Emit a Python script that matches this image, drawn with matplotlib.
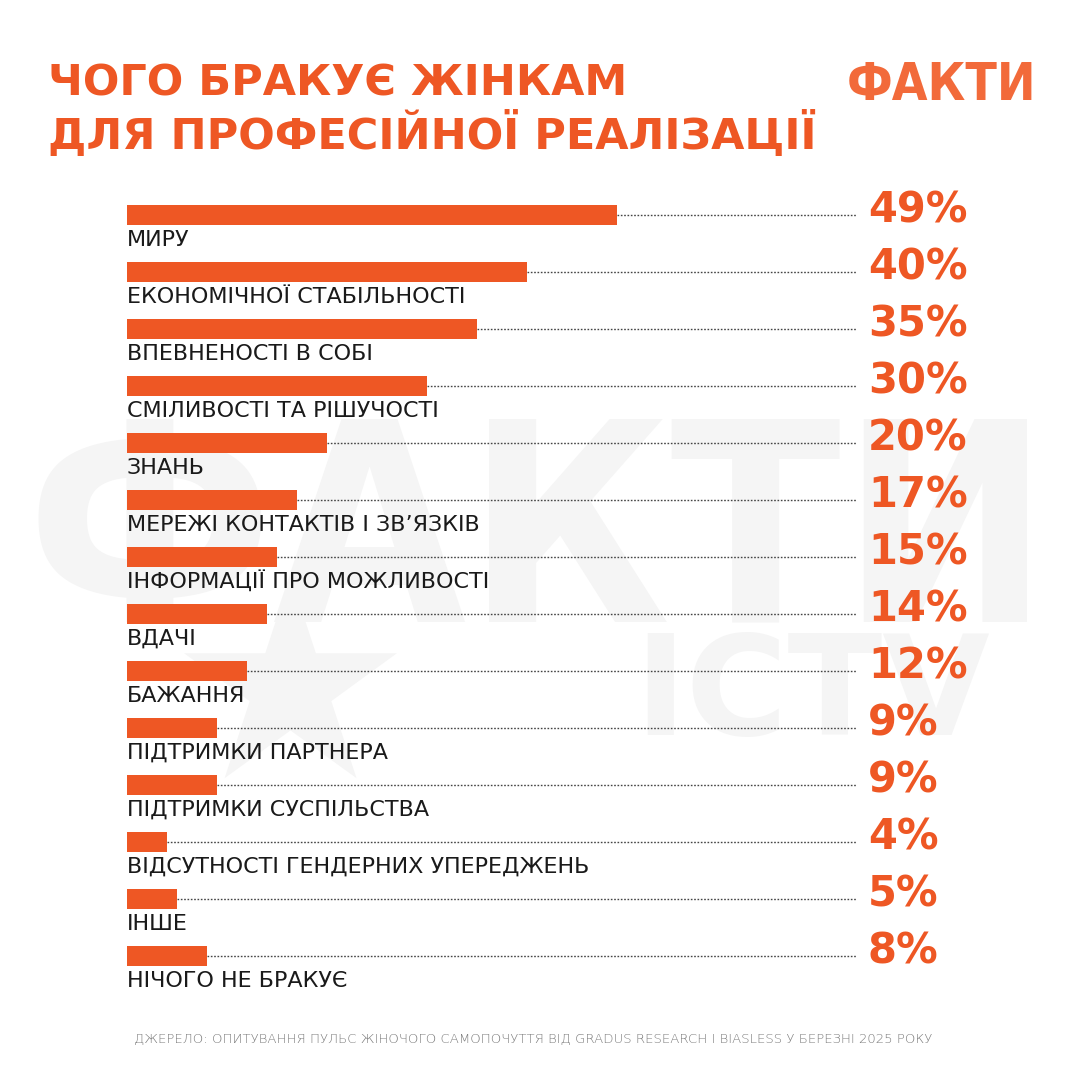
import matplotlib
matplotlib.use("Agg")
import matplotlib.pyplot as plt

# data
categories = ["МИРУ", "ЕКОНОМІЧНОЇ СТАБІЛЬНОСТІ", "ВПЕВНЕНОСТІ В СОБІ",
              "СМІЛИВОСТІ ТА РІШУЧОСТІ", "ЗНАНЬ", "МЕРЕЖІ КОНТАКТІВ І ЗВ’ЯЗКІВ",
              "ІНФОРМАЦІЇ ПРО МОЖЛИВОСТІ", "ВДАЧІ", "БАЖАННЯ", "ПІДТРИМКИ ПАРТНЕРА",
              "ПІДТРИМКИ СУСПІЛЬСТВА", "ВІДСУТНОСТІ ГЕНДЕРНИХ УПЕРЕДЖЕНЬ", "ІНШЕ",
              "НІЧОГО НЕ БРАКУЄ"]
values = [49, 40, 35, 30, 20, 17, 15, 14, 12, 9, 9, 4, 5, 8]

title_lines = ["ЧОГО БРАКУЄ ЖІНКАМ", "ДЛЯ ПРОФЕСІЙНОЇ РЕАЛІЗАЦІЇ"]
source = ("ДЖЕРЕЛО: ОПИТУВАННЯ ПУЛЬС ЖІНОЧОГО САМОПОЧУТТЯ ВІД GRADUS RESEARCH "
          "І BIASLESS У БЕРЕЗНІ 2025 РОКУ")

ORANGE = "#ee5724"
W = H = 1080

fig = plt.figure(figsize=(10.8, 10.8), dpi=100)
fig.patch.set_facecolor("white")

# faint watermark behind everything
wm = "#f5f5f5"
fig.text(538 / W, 1 - 622 / H, "ФАКТИ", fontsize=200, fontweight="bold",
         fontstretch="condensed", color=wm, ha="center", va="baseline", zorder=0)
fig.text(990 / W, 1 - 735 / H, "ІСTV", fontsize=100, fontweight="bold",
         color=wm, ha="right", va="baseline", zorder=0)
fig.text(290 / W, 1 - 700 / H, "★", fontsize=200, color=wm,
         ha="center", va="center", zorder=0)

# axes: 0% at x=127px, 10px per percent, rows 57px apart
row = 57.0
first = 215
top_px = first - 0.5 * row
bot_px = first + 13.5 * row
left_px, right_px = 127, 857
ax = fig.add_axes([left_px / W, 1 - bot_px / H, (right_px - left_px) / W,
                   (bot_px - top_px) / H])
ax.set_zorder(1)
ax.set_xlim(0, (right_px - left_px) / 10)
ax.set_ylim(len(values) - 0.5, -0.5)
ax.axis("off")
ax.patch.set_alpha(0)

bar_h = 20 / row
xmax = ax.get_xlim()[1]
for i, (cat, v) in enumerate(zip(categories, values)):
    ax.barh(i, v, height=bar_h, color=ORANGE, zorder=3)
    ax.plot([v, xmax], [i, i], linestyle=(0, (1.2, 1.2)), color="#444444",
            linewidth=1.0, zorder=2)
    ax.text(0, i + 31 / row, cat, fontsize=16,
            color="#1a1a1a", ha="left", va="baseline")
    ax.text(xmax + 1.1, i + 7 / row, f"{v}%", fontsize=30, fontweight="bold",
            color=ORANGE, ha="left", va="baseline", clip_on=False)

# title
fig.text(48 / W, 1 - 95 / H, title_lines[0], fontsize=31, fontweight="bold",
         color=ORANGE, ha="left", va="baseline")
fig.text(48 / W, 1 - 149 / H, title_lines[1], fontsize=31, fontweight="bold",
         color=ORANGE, ha="left", va="baseline")

# logo
fig.text(1036 / W, 1 - 100 / H, "ФАКТИ", fontsize=37, fontweight="heavy",
         fontstretch="condensed", color="#f26a3a", ha="right", va="baseline")

# source
fig.text(533 / W, 1 - 1042 / H, source, fontsize=9.5, fontweight="light",
         color="#7a7a7a", ha="center", va="baseline")

fig.savefig("out.png", dpi=100, facecolor="white")
